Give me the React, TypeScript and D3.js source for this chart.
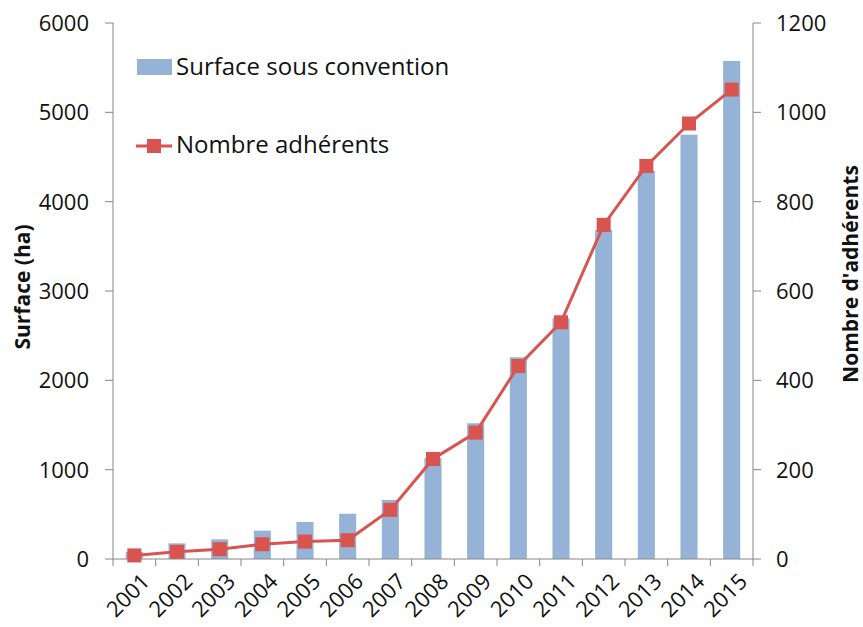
import React from "react";
import * as d3 from "d3";

const years = ["2001","2002","2003","2004","2005","2006","2007","2008","2009","2010","2011","2012","2013","2014","2015"];
const surface = [80, 175, 220, 317, 414, 507, 660, 1130, 1519, 2258, 2694, 3683, 4344, 4750, 5575];
const adherents = [8, 16, 22, 33, 39, 42, 110, 224, 283, 432, 530, 748, 880, 975, 1051];
const leftTicks = [0, 1000, 2000, 3000, 4000, 5000, 6000];
const rightTicks = [0, 200, 400, 600, 800, 1000, 1200];

const W = 863, H = 627;
const X0 = 113, X1 = 753, Y0 = 559, Y1 = 23;
const FONT = "'Open Sans', sans-serif";
const BAR = "#95B3D7";
const LINE = "#D9534F";
const AXIS = "#868686";

export default function App() {
  const x = d3.scaleBand<string>().domain(years).range([X0, X1]).paddingInner(0).paddingOuter(0);
  const yL = d3.scaleLinear().domain([0, 6000]).range([Y0, Y1]);
  const yR = d3.scaleLinear().domain([0, 1200]).range([Y0, Y1]);
  const bw = x.bandwidth() / 2.5;
  const cx = (y: string) => (x(y) as number) + x.bandwidth() / 2;
  const lineGen = d3.line<number>().x((_, i) => cx(years[i])).y((d) => yR(d));
  const ms = 14;
  const boundaries = d3.range(years.length + 1).map((i) => X0 + i * x.bandwidth());

  return (
    <svg width={W} height={H} style={{ position: "absolute", left: 0, top: 0, background: "#fff" }} fontFamily={FONT}>
      {surface.map((v, i) => (
        <rect key={"b" + i} x={cx(years[i]) - bw / 2} y={yL(v)} width={bw} height={Y0 - yL(v)} fill={BAR} />
      ))}
      <line x1={X0} x2={X0} y1={Y1} y2={Y0} stroke={AXIS} strokeWidth={1} />
      <line x1={X1} x2={X1} y1={Y1} y2={Y0} stroke={AXIS} strokeWidth={1} />
      <line x1={X0} x2={X1} y1={Y0} y2={Y0} stroke={AXIS} strokeWidth={1} />
      {leftTicks.map((t) => (
        <g key={"l" + t}>
          <line x1={X0 - 8} x2={X0} y1={yL(t)} y2={yL(t)} stroke={AXIS} />
          <text x={X0 - 24} y={yL(t)} dy="0.36em" textAnchor="end" fontSize={22} fill="#111">{t}</text>
        </g>
      ))}
      {rightTicks.map((t) => (
        <g key={"r" + t}>
          <line x1={X1} x2={X1 + 8} y1={yR(t)} y2={yR(t)} stroke={AXIS} />
          <text x={X1 + 23} y={yR(t)} dy="0.36em" textAnchor="start" fontSize={22} fill="#111">{t}</text>
        </g>
      ))}
      {boundaries.map((b, i) => (
        <line key={"t" + i} x1={b} x2={b} y1={Y0} y2={Y0 + 7} stroke={AXIS} />
      ))}
      {years.map((yr) => (
        <text key={"x" + yr} transform={`translate(${cx(yr) + 6},${Y0 + 13}) rotate(-45)`} textAnchor="end" dy="0.7em" fontSize={22} fill="#111">{yr}</text>
      ))}
      <path d={lineGen(adherents) || ""} fill="none" stroke={LINE} strokeWidth={3} />
      {adherents.map((v, i) => (
        <rect key={"m" + i} x={cx(years[i]) - ms / 2} y={yR(v) - ms / 2} width={ms} height={ms} fill={LINE} />
      ))}
      <text transform={`translate(30,${(Y0 + Y1) / 2 - 4}) rotate(-90)`} textAnchor="middle" fontSize={21} fontWeight="bold" fill="#111">Surface (ha)</text>
      <text transform={`translate(858,274) rotate(-90)`} textAnchor="middle" fontSize={21} fontWeight="bold" fill="#111">Nombre d'adhérents</text>
      <rect x={137} y={59} width={35} height={16} fill={BAR} />
      <text x={176} y={75} fontSize={24} fill="#111">Surface sous convention</text>
      <line x1={136} x2={172} y1={146} y2={146} stroke={LINE} strokeWidth={3} />
      <rect x={154 - ms / 2} y={146 - ms / 2} width={ms} height={ms} fill={LINE} />
      <text x={176} y={153} fontSize={24} fill="#111">Nombre adhérents</text>
    </svg>
  );
}
